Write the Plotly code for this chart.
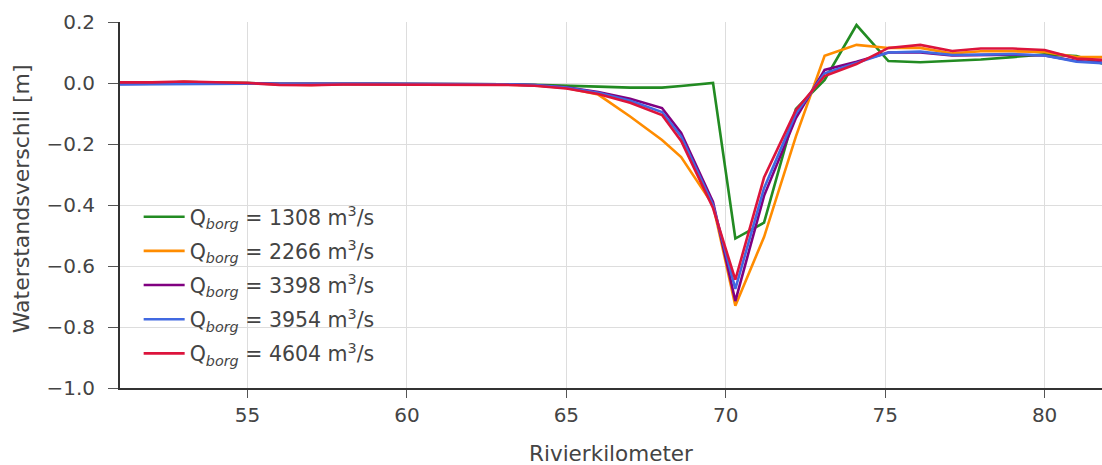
import plotly.graph_objects as go

# River kilometre stations
km = [51, 52, 53, 54, 55, 56, 57, 58, 59, 60, 61, 62, 63, 64, 65, 66, 67, 68,
      68.6, 69.6, 70.3, 71.2, 72.2, 73.1, 74.1, 75.1, 76.1, 77.1, 78, 79, 80, 81, 82]

# Water level difference [m] per discharge scenario
q1308 = [0.0, 0.0, 0.003, 0.002, 0.0, -0.003, -0.004, -0.003, -0.003, -0.003, -0.003, -0.003, -0.004, -0.006,
         -0.008, -0.012, -0.015, -0.015, -0.01, 0.0, -0.51, -0.458, -0.085, 0.01, 0.19, 0.072,
         0.068, 0.072, 0.077, 0.085, 0.094, 0.088, 0.058]
q2266 = [0.0, 0.0, 0.003, 0.002, 0.0, -0.005, -0.006, -0.004, -0.004, -0.004, -0.004, -0.004, -0.005, -0.008,
         -0.016, -0.038, -0.11, -0.187, -0.243, -0.40, -0.73, -0.505, -0.175, 0.089, 0.125, 0.115,
         0.115, 0.097, 0.104, 0.104, 0.102, 0.085, 0.085]
q3398 = [-0.003, -0.002, 0.0, 0.0, 0.0, -0.003, -0.004, -0.003, -0.003, -0.003, -0.003, -0.003, -0.004, -0.007,
         -0.014, -0.03, -0.052, -0.082, -0.164, -0.39, -0.715, -0.37, -0.115, 0.043, 0.07, 0.1,
         0.1, 0.09, 0.092, 0.093, 0.09, 0.072, 0.066]
q3954 = [-0.005, -0.004, -0.002, -0.002, -0.002, -0.003, -0.004, -0.003, -0.003, -0.003, -0.003, -0.003, -0.004, -0.007,
         -0.015, -0.032, -0.058, -0.095, -0.175, -0.40, -0.675, -0.345, -0.10, 0.032, 0.066, 0.1,
         0.103, 0.092, 0.093, 0.095, 0.09, 0.07, 0.064]
q4604 = [0.002, 0.002, 0.005, 0.003, 0.0, -0.006, -0.007, -0.005, -0.005, -0.005, -0.005, -0.004, -0.006, -0.009,
         -0.018, -0.036, -0.065, -0.105, -0.19, -0.41, -0.645, -0.31, -0.088, 0.023, 0.062, 0.115,
         0.125, 0.105, 0.113, 0.113, 0.108, 0.08, 0.075]

discharges = ["1308", "2266", "3398", "3954", "4604"]
series = [q1308, q2266, q3398, q3954, q4604]
colors = ["#228B22", "#FF8C00", "#800080", "#4169E1", "#DC143C"]

fig = go.Figure()
for q, ys, c in zip(discharges, series, colors):
    fig.add_trace(go.Scatter(
        x=km, y=ys, mode="lines",
        line=dict(color=c, width=2.6),
        name=f"Q<sub><i>borg</i></sub> = {q} m<sup>3</sup>/s",
        legendgroup=q,
    ))

font_color = "#444444"
axis_common = dict(
    showgrid=True, gridcolor="#dddddd", gridwidth=1,
    showline=True, linecolor="#333333", linewidth=1.8,
    ticks="outside", tickcolor="#555555", tickwidth=1.2,
    tickfont=dict(family="DejaVu Sans", size=20, color=font_color),
    zeroline=False,
)

fig.update_xaxes(range=[51, 81.8], tick0=0, dtick=5, ticklen=8, ticklabelstandoff=0, **axis_common)
fig.update_yaxes(range=[-1.0, 0.2], tick0=0, dtick=0.2, tickformat=".1f",
                 ticklen=10, ticklabelstandoff=9, **axis_common)

fig.update_layout(
    width=1102, height=465,
    margin=dict(l=120, r=0, t=22, b=77),
    paper_bgcolor="white", plot_bgcolor="white",
    font=dict(family="DejaVu Sans", color=font_color),
    showlegend=True,
    legend=dict(
        x=0.019, y=0.522, xanchor="left", yanchor="top",
        bgcolor="rgba(255,255,255,0)",
        font=dict(family="DejaVu Sans", size=20.5, color=font_color),
        tracegroupgap=4.5, itemwidth=41,
    ),
    annotations=[
        dict(text="Rivierkilometer", xref="paper", yref="paper", x=0.5, y=0,
             yshift=-65, xanchor="center", yanchor="middle", showarrow=False,
             font=dict(family="DejaVu Sans", size=21.5, color=font_color)),
        dict(text="Waterstandsverschil [m]", xref="paper", yref="paper", x=0, y=0.517,
             xshift=-113, xanchor="left", yanchor="middle", textangle=-90, showarrow=False,
             font=dict(family="DejaVu Sans", size=22, color=font_color)),
    ],
)

fig.write_html("out.html")
